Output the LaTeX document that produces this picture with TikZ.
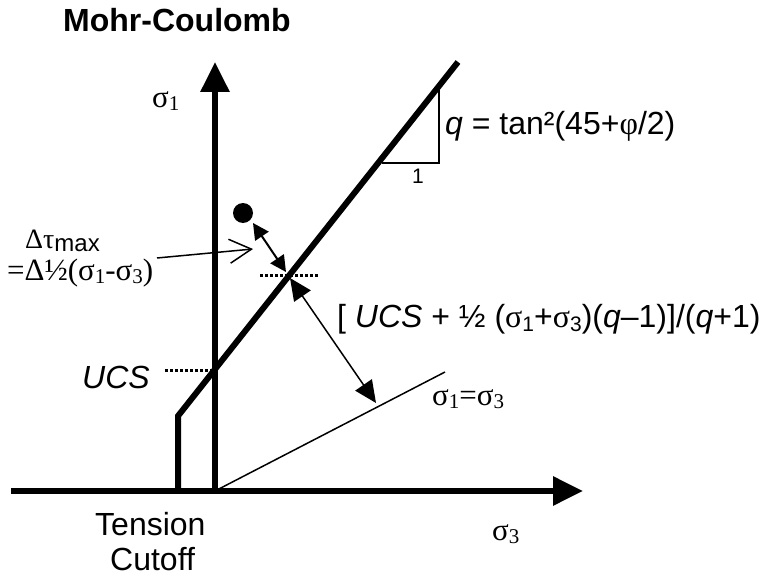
\documentclass[tikz,border=0pt]{standalone}
\usepackage{fontspec}
\setmainfont{Liberation Sans}
\newfontfamily\serf{Liberation Serif}
\usetikzlibrary{arrows.meta}
\newcommand{\sbs}[1]{\raisebox{-0.25ex}{\fontsize{21}{22}\selectfont #1}}
\begin{document}
\begin{tikzpicture}[x=1pt,y=-1pt,
  axis/.style={line width=6pt,-{Triangle[length=30pt,width=28pt]}},
  thickln/.style={line width=6pt},
  thinln/.style={line width=1.5pt},
  dotln/.style={line width=3pt,dash pattern=on 3pt off 2pt},
  lbl/.style={inner sep=0pt,anchor=base west},
  sans/.style={font=\fontsize{32}{34}\selectfont},
  ser/.style={font=\serf\fontsize{31}{33}\selectfont}]
\useasboundingbox (0,0) rectangle (764,578);
% coordinates
\coordinate (o) at (215,491);
\coordinate (xl) at (11,491);
\coordinate (xr) at (583,491);
\coordinate (yt) at (215,62);
\coordinate (tb) at (178,491);
\coordinate (tc) at (178,416);
\coordinate (mt) at (458,62);
\coordinate (ucs) at (213,370);
\coordinate (eq) at (445,372);
\coordinate (trt) at (439,87);
\coordinate (trc) at (439,163);
\coordinate (trl) at (382,163);
\coordinate (ucsd1) at (165,370);
\coordinate (ptd1) at (260,275);
\coordinate (ptd2) at (318,275);
\coordinate (da) at (253,223);
\coordinate (db) at (286,272);
\coordinate (ba) at (290,278);
\coordinate (bb) at (376,403);
\coordinate (ta) at (157,258);
\coordinate (tt) at (253,249);
% axes
\draw[axis] (xl) -- (xr);
\draw[axis] (o) -- (yt);
% failure envelope
\draw[thickln,line join=miter] (tb) -- (tc) -- (mt);
% sigma1 = sigma3
\draw[thinln] (o) -- (eq);
% slope triangle
\draw[thinln] (trt) -- (trc) -- (trl);
% dotted markers
\draw[dotln] (ucsd1) -- (ucs);
\draw[dotln] (ptd1) -- (ptd2);
% stress point
\node[circle,fill=black,minimum size=20pt,inner sep=0pt] (pt) at (243,213) {};
% arrows
\draw[line width=2pt,{Triangle[length=16pt,width=16pt]}-{Triangle[length=16pt,width=16pt]}] (da) -- (db);
\draw[thinln,{Triangle[length=22pt,width=20pt]}-{Triangle[length=22pt,width=20pt]}] (ba) -- (bb);
\draw[thinln,-{Straight Barb[length=22pt,width=24pt,line width=1.5pt]}] (ta) -- (tt);
% labels
\node[lbl,font=\bfseries\fontsize{32}{34}\selectfont] (title) at (63,32) {Mohr-Coulomb};
\node[lbl,ser] (s1) at (152,107) {σ\sbs{1}};
\node[lbl,sans] (ql) at (445,135) {\textit{q} = tan²(45+{\serf φ}/2)};
\node[lbl,font=\fontsize{21}{22}\selectfont] (one) at (412,183) {1};
\node[lbl,font=\serf\fontsize{28}{30}\selectfont] (dt) at (25,248) {Δτ\raisebox{-0.3ex}{\fontsize{24}{26}\selectfont\rmfamily max}};
\node[lbl,ser] (dt2) at (7,280) {=Δ½(σ\sbs{1}-σ\sbs{3})};
\node[lbl,sans] (bl) at (337,327) {[ \textit{UCS} + ½ ({\serf σ}\sbs{1}+{\serf σ}\sbs{3})(\textit{q}–1)]/(\textit{q}+1)};
\node[lbl,sans] (ul) at (82,388) {\textit{UCS}};
\node[lbl,ser] (eql) at (432,405) {σ\sbs{1}=σ\sbs{3}};
\node[lbl,sans] (tl1) at (95,535) {Tension};
\node[lbl,sans] (tl2) at (110,570) {Cutoff};
\node[lbl,ser] (s3) at (492,540) {σ\sbs{3}};
\end{tikzpicture}
\end{document}
